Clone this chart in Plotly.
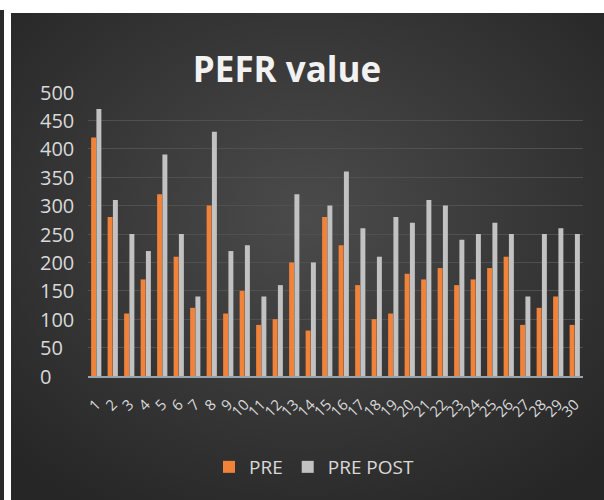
import plotly.graph_objects as go
import urllib.parse

categories = [str(i) for i in range(1, 31)]
pre = [420, 280, 110, 170, 320, 210, 120, 300, 110, 150,
       90, 100, 200, 80, 280, 230, 160, 100, 110, 180,
       170, 190, 160, 170, 190, 210, 90, 120, 140, 90]
pre_post = [470, 310, 250, 220, 390, 250, 140, 430, 220, 230,
            140, 160, 320, 200, 300, 360, 260, 210, 280, 270,
            310, 300, 240, 250, 270, 250, 140, 250, 260, 250]
y_ticks = [0, 50, 100, 150, 200, 250, 300, 350, 400, 450, 500]

W, H = 604, 500
ML, MR, MT, MB = 88, 21, 92, 124
PW, PH = W - ML - MR, H - MT - MB

def px_x(px):
    return (px - ML) / PW

def px_y(py):
    return (H - MB - py) / PH

svg = (
    '<svg xmlns="http://www.w3.org/2000/svg" width="593" height="487" viewBox="0 0 593 487" preserveAspectRatio="none">'
    '<defs><radialGradient id="g" cx="50%" cy="42%" r="70%">'
    '<stop offset="0%" stop-color="#4b4b4b"/>'
    '<stop offset="100%" stop-color="#262626"/>'
    '</radialGradient></defs>'
    '<rect width="593" height="487" fill="url(#g)"/></svg>'
)
bg_src = "data:image/svg+xml;charset=utf-8," + urllib.parse.quote(svg)

fig = go.Figure()
fig.add_trace(go.Bar(name="PRE", x=categories, y=pre,
                     marker=dict(color="#f0823a", line=dict(width=0))))
fig.add_trace(go.Bar(name="PRE POST", x=categories, y=pre_post,
                     marker=dict(color="#c2c2c2", line=dict(width=0))))

annotations = []
for v in y_ticks:
    annotations.append(dict(
        x=px_x(38), xref="paper", y=v, yref="y", xanchor="left", yanchor="middle",
        text=str(v), showarrow=False,
        font=dict(family="Open Sans", size=20, color="#d9d9d9")))

fig.update_layout(
    width=W, height=H,
    margin=dict(l=ML, r=MR, t=MT, b=MB, pad=0),
    paper_bgcolor="white",
    plot_bgcolor="rgba(0,0,0,0)",
    barmode="group",
    bargap=0.36,
    bargroupgap=0.06,
    title=dict(text="<b>PEFR value</b>", x=287 / W, xref="container",
               xanchor="center", y=1 - 70 / H, yref="container", yanchor="middle",
               font=dict(family="Open Sans", size=35, color="#f2f2f2")),
    xaxis=dict(type="category", tickmode="array", tickvals=categories, ticktext=categories,
               tickangle=-45, showgrid=False, showline=True,
               linecolor="#9aa3ab", linewidth=2, ticks="", ticklabelstandoff=12,
               tickfont=dict(family="Open Sans", size=15, color="#d9d9d9")),
    yaxis=dict(range=[0, 500], tickvals=y_ticks, showticklabels=False,
               showgrid=True, gridcolor="#505050", gridwidth=1, zeroline=False),
    legend=dict(orientation="h", x=px_x(314), xanchor="center", y=px_y(467),
                yanchor="middle", font=dict(family="Open Sans", size=19, color="#d9d9d9"),
                bgcolor="rgba(0,0,0,0)"),
    showlegend=True,
    annotations=annotations,
    images=[dict(source=bg_src, xref="paper", yref="paper",
                 x=px_x(11), y=px_y(13), sizex=593 / PW, sizey=487 / PH,
                 xanchor="left", yanchor="top", sizing="stretch", layer="below")],
    shapes=[dict(type="rect", xref="paper", yref="paper",
                 x0=px_x(0), x1=px_x(4), y0=px_y(500), y1=px_y(10),
                 fillcolor="#2a2a2a", line=dict(width=0), layer="below")],
)

fig.write_html("out.html", config={"displayModeBar": False},
               post_script="document.body.style.margin='0';document.body.style.overflow='hidden';")
